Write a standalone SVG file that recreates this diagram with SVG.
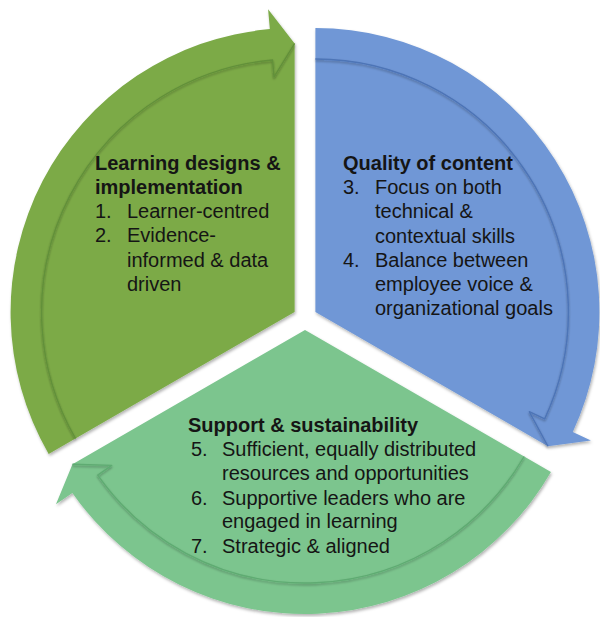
<svg xmlns="http://www.w3.org/2000/svg" width="600" height="617" viewBox="0 0 600 617">
<defs>
<filter id="sh" x="-10%" y="-10%" width="120%" height="120%">
<feDropShadow dx="1" dy="2" stdDeviation="1.8" flood-color="#000" flood-opacity="0.3"/>
</filter>
<filter id="lsh" x="-10%" y="-10%" width="120%" height="120%">
<feDropShadow dx="0" dy="1.5" stdDeviation="1" flood-color="#000" flood-opacity="0.35"/>
</filter>
</defs>
<style>
.t{font-family:"Liberation Sans",Arial,sans-serif;font-size:20px;fill:#151515}
.b{font-weight:bold}
.ln{fill:none;stroke-width:1.4;stroke-linejoin:round}
</style>
<rect width="600" height="617" fill="#ffffff"/>

<g id="learning-designs">
<path filter="url(#sh)" fill="#7baa47" d="M294.6,312 L48.65,454 A284,284 0 0 1 269.85,29.08 L268.1,9.16 L294.6,43.5 Z"/>
<path class="ln" filter="url(#lsh)" stroke="#62903a" d="M75.5,438.5 A253,253 0 0 1 272.55,59.96 L274.03,76.9 L294.6,43.5"/>
<text class="t b" x="95" y="170">Learning designs &amp;</text>
<text class="t b" x="95" y="194">implementation</text>
<text class="t" x="95" y="218">1.</text>
<text class="t" x="127" y="218">Learner-centred</text>
<text class="t" x="95" y="242">2.</text>
<text class="t" x="127" y="242">Evidence-</text>
<text class="t" x="127" y="267">informed &amp; data</text>
<text class="t" x="127" y="291">driven</text>
</g>

<g id="quality-of-content">
<path filter="url(#sh)" fill="#6f97d6" d="M315.4,312 L315.4,28 A284,284 0 0 1 572.79,432.02 L590.92,440.48 L547.93,446.25 Z"/>
<path class="ln" filter="url(#lsh)" stroke="#4d74b6" d="M315.4,59 A253,253 0 0 1 544.7,418.92 L529.29,411.74 L547.93,446.25"/>
<text class="t b" x="343" y="170">Quality of content</text>
<text class="t" x="343" y="194">3.</text>
<text class="t" x="375" y="194">Focus on both</text>
<text class="t" x="375" y="218">technical &amp;</text>
<text class="t" x="375" y="243">contextual skills</text>
<text class="t" x="343" y="267">4.</text>
<text class="t" x="375" y="267">Balance between</text>
<text class="t" x="375" y="291">employee voice &amp;</text>
<text class="t" x="375" y="315">organizational goals</text>
</g>

<g id="support-sustainability">
<path filter="url(#sh)" fill="#7bc58e" d="M305,330 L550.95,472 A284,284 0 0 1 72.36,492.9 L55.98,504.37 L72.47,464.25 Z"/>
<path class="ln" filter="url(#lsh)" stroke="#5fab72" d="M524.1,456.5 A253,253 0 0 1 97.76,475.12 L111.68,465.36 L72.47,464.25"/>
<text class="t b" x="188" y="432">Support &amp; sustainability</text>
<text class="t" x="191" y="456">5.</text>
<text class="t" x="222" y="456">Sufficient, equally distributed</text>
<text class="t" x="222" y="480">resources and opportunities</text>
<text class="t" x="191" y="505">6.</text>
<text class="t" x="222" y="505">Supportive leaders who are</text>
<text class="t" x="222" y="528">engaged in learning</text>
<text class="t" x="191" y="553">7.</text>
<text class="t" x="222" y="553">Strategic &amp; aligned</text>
</g>
</svg>
